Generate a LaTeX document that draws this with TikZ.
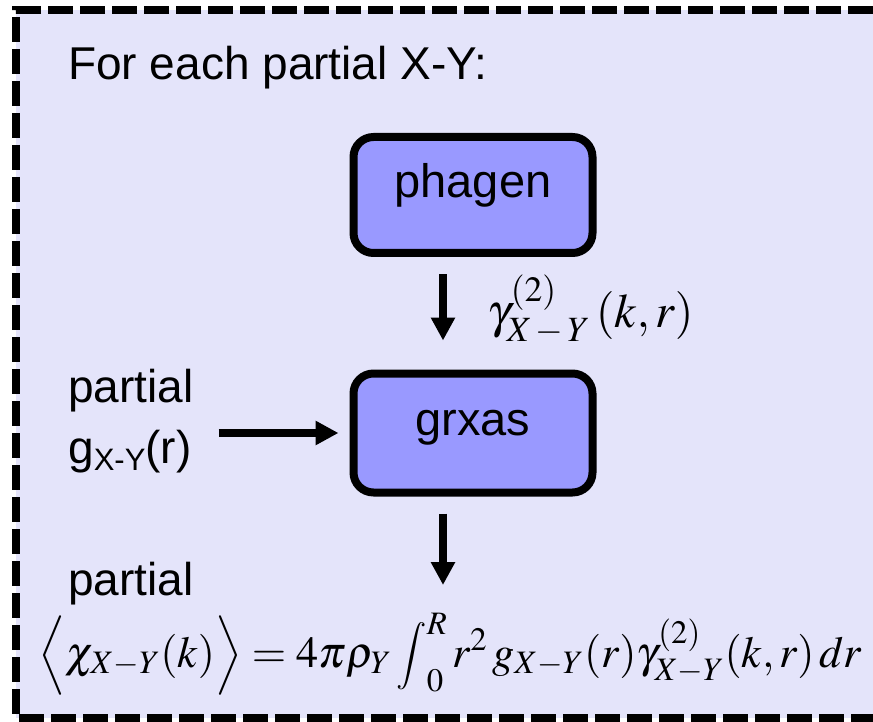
\documentclass[tikz,border=0pt]{standalone}
\usepackage{mathptmx}
\usepackage[no-math]{fontspec}
\setmainfont{Liberation Sans}
\usetikzlibrary{arrows.meta,positioning}
\definecolor{BoxFill}{HTML}{9999FF}
\definecolor{PanelFill}{HTML}{E4E4FA}
\newcommand{\pairsub}{X\,{-}\,Y}
\newcommand{\bigint}{\mathop{\vcenter{\hbox{\resizebox*{!}{70pt}{$\displaystyle\int$}}}}\nolimits}

\begin{document}
\begin{tikzpicture}[x=1pt,y=-1pt,
  procbox/.style={draw=black, line width=8pt, fill=BoxFill, rounded corners=20pt,
    minimum width=239pt, minimum height=116pt, text height=34pt, text depth=29pt,
    inner sep=0pt, font=\fontsize{47}{56}\selectfont},
  flowarrow/.style={line width=8pt, -{Triangle[width=23pt,length=23pt]}},
  sidetext/.style={anchor=base west, inner sep=0pt, font=\fontsize{46}{56}\selectfont},
  mathtext/.style={anchor=base west, inner sep=0pt, font=\fontsize{48}{58}\selectfont}]
  \useasboundingbox (0,0) rectangle (873,722);

  % panel
  \fill[PanelFill] (16,10) rectangle (873,718);
  \draw[line width=8pt, dash pattern=on 25pt off 7pt]
    (873,10) -- (16,10) -- (16,718) -- (873,718);

  \node[sidetext] (title) at (68,80) {For each partial X-Y:};

  % programs
  \node[procbox] (phagen) at (473,195) {phagen};
  \node[procbox, minimum height=119pt] (grxas) at (473,433) {grxas};

  % inputs and outputs
  \node[sidetext] (gpartial) at (68,402) {partial};
  \node[sidetext] (gin) at (68,463) {g\raisebox{-7pt}{\fontsize{31}{31}\selectfont X-Y}(r)};
  \node[mathtext] (gammalabel) at (487,327) {$\gamma^{(2)}_{\pairsub}\,(k,r)$};
  \node[sidetext] (chipartial) at (68,595) {partial};
  \node[mathtext, font=\fontsize{46}{56}\selectfont] (chiformula) at (38,667)
    {\resizebox{824pt}{!}{$\Bigl\langle \chi_{X{-}Y}(k)\Bigr\rangle = 4\pi\rho_Y\bigint_0^R r^2\, g_{X{-}Y}(r)\gamma^{(2)}_{X{-}Y}(k,r)\,dr$}};
  \coordinate (chitop) at (443,585);

  \draw[flowarrow] ([xshift=-30pt,yshift=-17pt]phagen.south) -- ([xshift=-30pt,yshift=29pt]grxas.north);
  \draw[flowarrow] ([xshift=25pt]gpartial.east |- grxas.west) -- ([xshift=-11pt]grxas.west);
  \draw[flowarrow] ([xshift=-30pt,yshift=-17pt]grxas.south) -- (chitop);
\end{tikzpicture}
\end{document}
